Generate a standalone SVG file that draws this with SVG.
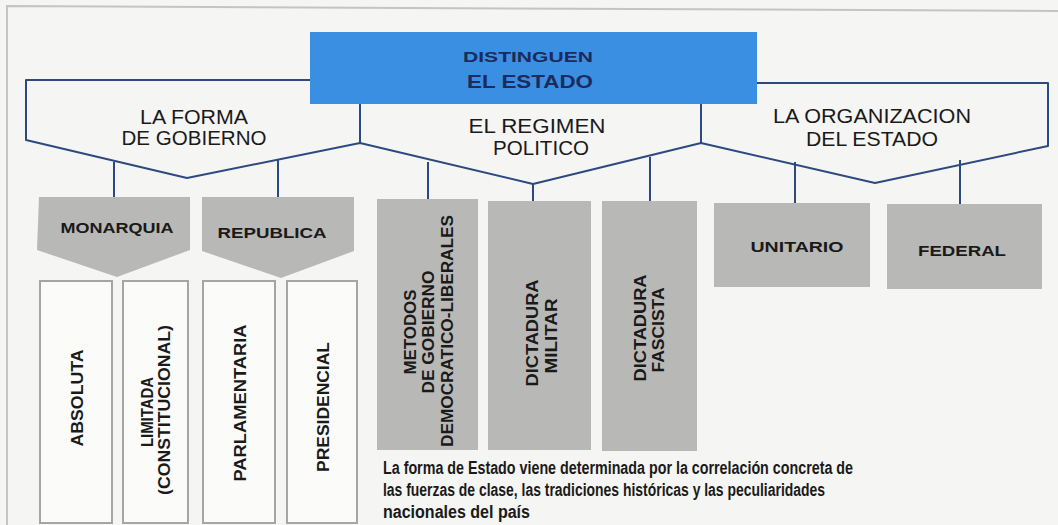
<svg xmlns="http://www.w3.org/2000/svg" width="1058" height="525" viewBox="0 0 1058 525">
<style>
.bg{fill:#f5f5f3}
.frame{fill:none;stroke:#c4c4c4;stroke-width:2}
.conn{fill:none;stroke:#2d4a80;stroke-width:2;stroke-linejoin:round}
.gray{fill:#b8b8b7}
.white{fill:#fbfbfa;stroke:#a5a5a5;stroke-width:2}
.head{font-family:"Liberation Sans",Arial,sans-serif;font-size:20px;fill:#1a1a1a;text-anchor:middle}
.lbl{font-family:"Liberation Sans",Arial,sans-serif;font-size:15px;font-weight:bold;fill:#1a1a1a;text-anchor:middle}
.vl{font-family:"Liberation Sans",Arial,sans-serif;font-size:16px;font-weight:bold;fill:#1a1a1a;text-anchor:middle}
.top{font-family:"Liberation Sans",Arial,sans-serif;font-weight:bold;fill:#1d2a5c;text-anchor:middle}
.note{font-family:"Liberation Sans",Arial,sans-serif;font-size:18px;font-weight:bold;fill:#1a1a1a}
</style>
<rect class="bg" x="0" y="0" width="1058" height="525"/>
<polyline class="frame" points="7,525 7,6 1058,11"/>

<g id="connectors">
<polyline class="conn" points="310,80 26,80 26,140 187,178 360,143 533,184 701,143 875,183 1048,146 1048,83 757,83"/>
<line class="conn" x1="360" y1="104" x2="360" y2="143"/>
<line class="conn" x1="701" y1="104" x2="701" y2="143"/>
<line class="conn" x1="114" y1="162" x2="114" y2="198"/>
<line class="conn" x1="278" y1="160" x2="278" y2="198"/>
<line class="conn" x1="428" y1="162" x2="428" y2="200"/>
<line class="conn" x1="533" y1="184" x2="533" y2="201"/>
<line class="conn" x1="650" y1="157" x2="650" y2="201"/>
<line class="conn" x1="795" y1="162" x2="795" y2="203"/>
<line class="conn" x1="960" y1="160" x2="960" y2="204"/>
</g>

<g id="distinguen">
<rect x="310" y="32" width="447" height="72" fill="#3b8fe2"/>
<text class="top" x="528" y="62" font-size="15" textLength="130" lengthAdjust="spacingAndGlyphs">DISTINGUEN</text>
<text class="top" x="530" y="88" font-size="19" textLength="126" lengthAdjust="spacingAndGlyphs">EL ESTADO</text>
</g>

<g id="forma-gobierno">
<text class="head" x="194" y="124" textLength="108" lengthAdjust="spacingAndGlyphs">LA FORMA</text>
<text class="head" x="194" y="145" textLength="145" lengthAdjust="spacingAndGlyphs">DE GOBIERNO</text>
</g>
<g id="regimen-politico">
<text class="head" x="537" y="133" textLength="137" lengthAdjust="spacingAndGlyphs">EL REGIMEN</text>
<text class="head" x="541" y="155" textLength="96" lengthAdjust="spacingAndGlyphs">POLITICO</text>
</g>
<g id="organizacion-estado">
<text class="head" x="872" y="123" textLength="198" lengthAdjust="spacingAndGlyphs">LA ORGANIZACION</text>
<text class="head" x="872" y="146" textLength="132" lengthAdjust="spacingAndGlyphs">DEL ESTADO</text>
</g>

<g id="monarquia">
<path class="gray" d="M39,197 H190 V250 L117,277 L37,250 Z"/>
<text class="lbl" x="117" y="233" textLength="113" lengthAdjust="spacingAndGlyphs">MONARQUIA</text>
</g>
<g id="republica">
<path class="gray" d="M202,197 H354 V251 L281,278 L202,251 Z"/>
<text class="lbl" x="272" y="238" textLength="109" lengthAdjust="spacingAndGlyphs">REPUBLICA</text>
</g>

<g id="absoluta">
<rect class="white" x="40" y="281" width="72" height="242"/>
<text class="vl" transform="translate(83,398) rotate(-90)" textLength="97" lengthAdjust="spacingAndGlyphs">ABSOLUTA</text>
</g>
<g id="limitada">
<rect class="white" x="123" y="281" width="65" height="242"/>
<text class="vl" transform="translate(153,412) rotate(-90)" textLength="70" lengthAdjust="spacingAndGlyphs">LIMITADA</text>
<text class="vl" transform="translate(170,410) rotate(-90)" textLength="170" lengthAdjust="spacingAndGlyphs">(CONSTITUCIONAL)</text>
</g>
<g id="parlamentaria">
<rect class="white" x="203" y="281" width="72" height="242"/>
<text class="vl" transform="translate(246,403) rotate(-90)" textLength="157" lengthAdjust="spacingAndGlyphs">PARLAMENTARIA</text>
</g>
<g id="presidencial">
<rect class="white" x="287" y="281" width="70" height="242"/>
<text class="vl" transform="translate(329,407) rotate(-90)" textLength="130" lengthAdjust="spacingAndGlyphs">PRESIDENCIAL</text>
</g>

<g id="metodos">
<rect class="gray" x="377" y="199" width="101" height="251"/>
<text class="vl" transform="translate(416,332) rotate(-90)" textLength="85" lengthAdjust="spacingAndGlyphs">METODOS</text>
<text class="vl" transform="translate(434,332) rotate(-90)" textLength="123" lengthAdjust="spacingAndGlyphs">DE GOBIERNO</text>
<text class="vl" transform="translate(453,331) rotate(-90)" textLength="232" lengthAdjust="spacingAndGlyphs">DEMOCRATICO-LIBERALES</text>
</g>
<g id="dictadura-militar">
<rect class="gray" x="488" y="201" width="103" height="249"/>
<text class="vl" transform="translate(538,333) rotate(-90)" textLength="107" lengthAdjust="spacingAndGlyphs">DICTADURA</text>
<text class="vl" transform="translate(557,336) rotate(-90)" textLength="75" lengthAdjust="spacingAndGlyphs">MILITAR</text>
</g>
<g id="dictadura-fascista">
<rect class="gray" x="602" y="201" width="95" height="250"/>
<text class="vl" transform="translate(646,328) rotate(-90)" textLength="107" lengthAdjust="spacingAndGlyphs">DICTADURA</text>
<text class="vl" transform="translate(664,330) rotate(-90)" textLength="85" lengthAdjust="spacingAndGlyphs">FASCISTA</text>
</g>

<g id="unitario">
<rect class="gray" x="714" y="203" width="156" height="84"/>
<text class="lbl" x="797" y="252" textLength="93" lengthAdjust="spacingAndGlyphs">UNITARIO</text>
</g>
<g id="federal">
<rect class="gray" x="887" y="204" width="155" height="85"/>
<text class="lbl" x="962" y="256" textLength="88" lengthAdjust="spacingAndGlyphs">FEDERAL</text>
</g>

<g id="nota">
<text class="note" x="383" y="474" textLength="470" lengthAdjust="spacingAndGlyphs">La forma de Estado viene determinada por la correlación concreta de</text>
<text class="note" x="383" y="496" textLength="442" lengthAdjust="spacingAndGlyphs">las fuerzas de clase, las tradiciones históricas y las peculiaridades</text>
<text class="note" x="383" y="518" textLength="147" lengthAdjust="spacingAndGlyphs">nacionales del país</text>
</g>
</svg>
